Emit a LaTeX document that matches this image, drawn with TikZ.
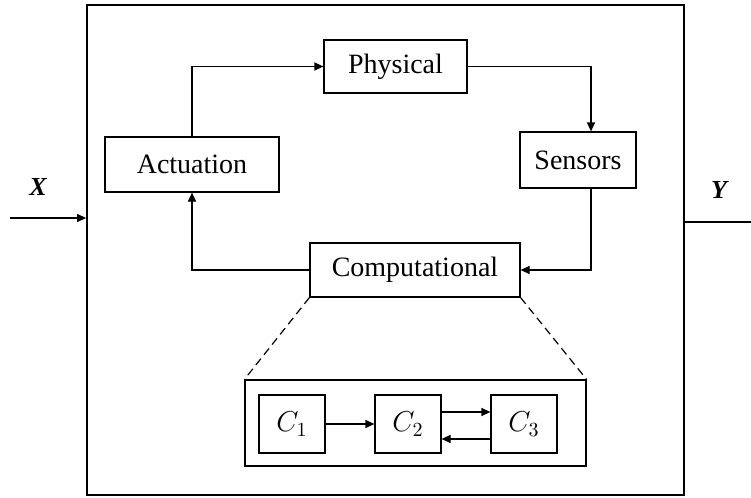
\documentclass[tikz,border=0pt]{standalone}
\usepackage{fontspec}
\setmainfont{Liberation Serif}
\usetikzlibrary{arrows.meta}

\begin{document}
\begin{tikzpicture}[x=0.5pt, y=-0.5pt,
    blk/.style={draw, line width=0.6pt, inner sep=0pt, font=\fontsize{14}{16}\selectfont},
    cbox/.style={blk, minimum width=33pt, minimum height=29pt},
    arr/.style={line width=0.6pt, -{Triangle[length=4.5pt,width=4pt]}},
    zoomline/.style={line width=0.6pt, dash pattern=on 4pt off 2.5pt},
    lab/.style={font=\fontsize{13}{15}\selectfont\bfseries\itshape}]
  \useasboundingbox (0,0) rectangle (751,498);
  \node[draw, line width=0.9pt, minimum width=298.5pt, minimum height=245pt] (sys) at (385.5,250) {};
  \node[blk, minimum width=71.5pt, minimum height=26.5pt] (phys) at (395.5,66.5) {Physical};
  \node[blk, minimum width=87pt, minimum height=27.5pt] (act) at (192,164.5) {Actuation};
  \node[blk, minimum width=58pt, minimum height=28pt] (sens) at (578,160) {Sensors};
  \node[blk, minimum width=105pt, minimum height=27pt] (comp) at (415,270) {Computational};
  \node[blk, minimum width=170.5pt, minimum height=43pt] (inner) at (415.5,423) {};
  \node[cbox] (c1) at (292,424) {$C_1$};
  \node[cbox] (c2) at (408,424) {$C_2$};
  \node[cbox] (c3) at (524,424) {$C_3$};
  \node[lab] (xlab) at (38,187) {X};
  \node[lab] (ylab) at (719,190) {Y};
  \coordinate (xin) at (10,218);
  \coordinate (yout) at (751,222);
  \draw[arr] (xin) -- (xin -| sys.west);
  \draw[line width=0.6pt] (sys.east |- yout) -- (yout);
  \draw[arr] (act.north) |- (phys.west);
  \draw[arr] (phys.east) -| ([xshift=6.5pt]sens.north);
  \draw[arr] ([xshift=6.5pt]sens.south) |- (comp.east);
  \draw[arr] (comp.west) -| (act.south);
  \draw[zoomline] (comp.south west) -- (inner.north west);
  \draw[zoomline] (comp.south east) -- (inner.north east);
  \draw[arr] (c1) -- (c2);
  \draw[arr] ([yshift=6pt]c2.east) -- ([yshift=6pt]c3.west);
  \draw[arr] ([yshift=-7.5pt]c3.west) -- ([yshift=-7.5pt]c2.east);
\end{tikzpicture}
\end{document}
